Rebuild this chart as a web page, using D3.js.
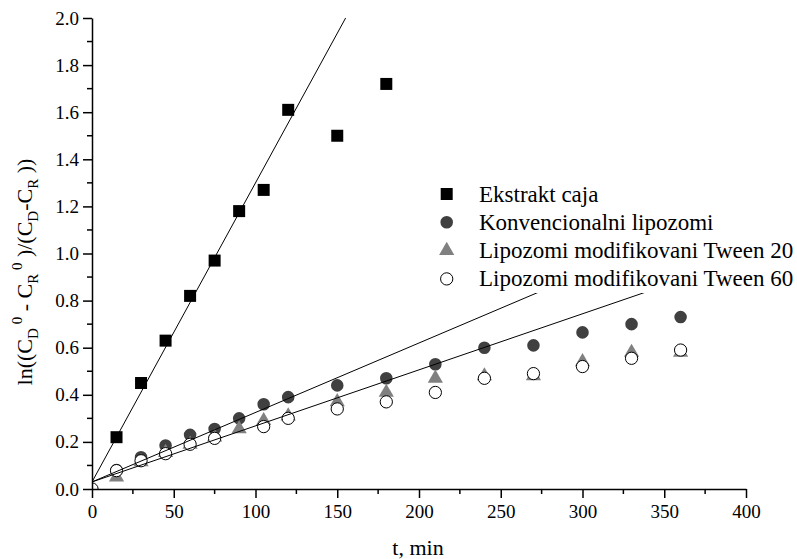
<!DOCTYPE html>
<html>
<head>
<meta charset="utf-8">
<script src="https://cdn.jsdelivr.net/npm/d3@7"></script>
<style>
  body { margin: 0; background: #fff; }
  svg, svg text { font-family: "Liberation Serif", "Times New Roman", serif; }
  svg { display: block; }
</style>
</head>
<body>
<script>
// data
let times = [15, 30, 45, 60, 75, 90, 105, 120, 150, 180, 210, 240, 270, 300, 330, 360];
let ekstrakt = [0.22, 0.45, 0.63, 0.82, 0.97, 1.18, 1.27, 1.61, 1.50, 1.72];
let konvencionalni = [0.08, 0.135, 0.185, 0.23, 0.255, 0.30, 0.36, 0.39, 0.44, 0.47, 0.53, 0.60, 0.61, 0.665, 0.70, 0.73];
let tween20 = [0.05, 0.115, 0.155, 0.19, 0.22, 0.255, 0.29, 0.31, 0.37, 0.41, 0.47, 0.48, 0.48, 0.54, 0.58, 0.58];
let tween60 = [0.078, 0.12, 0.15, 0.19, 0.215, null, 0.265, 0.30, 0.34, 0.37, 0.41, 0.47, 0.49, 0.52, 0.555, 0.59];
let seriesNames = ["Ekstrakt caja", "Konvencionalni lipozomi", "Lipozomi modifikovani Tween 20", "Lipozomi modifikovani Tween 60"];
// linear fits (intercept, slope)
let fitIntercepts = [0.03, 0.03, 0.03];
let fitSlopes = [0.0127, 0.00295, 0.00238];
let xTicks = [0, 50, 100, 150, 200, 250, 300, 350, 400];
let yTicks = [0, 0.2, 0.4, 0.6, 0.8, 1.0, 1.2, 1.4, 1.6, 1.8, 2.0];

let serif = "'Liberation Serif', 'Times New Roman', serif";

let svg = d3.select("body").append("svg")
  .attr("width", 797)
  .attr("height", 559);

let margin = {top: 18, left: 92, right: 51, bottom: 70};
let innerWidth = 797 - margin.left - margin.right;
let innerHeight = 559 - margin.top - margin.bottom;

let x = d3.scaleLinear().domain([0, 400]).range([0, innerWidth]);
let y = d3.scaleLinear().domain([0, 2]).range([innerHeight, 0]);

let g = svg.append("g")
  .attr("transform", `translate(${margin.left},${margin.top})`);

g.append("clipPath").attr("id", "plot")
  .append("rect").attr("width", innerWidth).attr("height", innerHeight);

let plot = g.append("g").attr("clip-path", "url(#plot)");

function pts(vals, withZero) {
  let out = vals.map((v, i) => ({t: times[i], v: v})).filter(d => d.v != null);
  if (withZero) out.unshift({t: 0, v: 0});
  return out;
}

let styles = [
  {type: d3.symbolSquare, size: 144, fill: "#000", stroke: "none"},
  {type: d3.symbolCircle, size: 124, fill: "#404040", stroke: "none"},
  {type: d3.symbolTriangle, size: 100, fill: "#808080", stroke: "none"},
  {type: d3.symbolCircle, size: 118, fill: "#fff", stroke: "#000"}
];
let series = [pts(ekstrakt), pts(konvencionalni), pts(tween20), pts(tween60, true)];

series.forEach((data, i) => {
  let s = styles[i];
  plot.append("g").selectAll("path")
    .data(data)
    .join("path")
    .attr("transform", d => `translate(${x(d.t)},${y(d.v)})`)
    .attr("d", d3.symbol().type(s.type).size(s.size))
    .attr("fill", s.fill)
    .attr("stroke", s.stroke)
    .attr("stroke-width", 1);
});

// fit lines
fitSlopes.forEach((b, i) => {
  let a = fitIntercepts[i];
  let tEnd = Math.min(400, (2 - a) / b);
  plot.append("line")
    .attr("x1", x(0)).attr("y1", y(a))
    .attr("x2", x(tEnd)).attr("y2", y(a + b * tEnd))
    .attr("stroke", "#000")
    .attr("stroke-width", 1);
});

// legend (white box hides the lines behind it)
let legend = svg.append("g");
legend.append("rect")
  .attr("x", 425).attr("y", 178)
  .attr("width", 372).attr("height", 115)
  .attr("fill", "#fff");

seriesNames.forEach((name, i) => {
  let s = styles[i];
  let cy = 194 + i * 28.3;
  legend.append("path")
    .attr("transform", `translate(446.7,${cy})`)
    .attr("d", d3.symbol().type(s.type).size(s.size))
    .attr("fill", s.fill)
    .attr("stroke", s.stroke);
  legend.append("text")
    .attr("x", 479)
    .attr("y", cy + 7.5)
    .style("font-family", serif)
    .style("font-size", "23px")
    .attr("fill", "#000")
    .text(name);
});

// axes
let xAxis = d3.axisBottom(x).tickValues(xTicks).tickSize(9).tickSizeOuter(0).tickPadding(7);
let xG = g.append("g")
  .attr("transform", `translate(0,${innerHeight})`)
  .call(xAxis);
xG.selectAll("text").style("font-size", "19px").style("font-family", serif).attr("fill", "#000");
xG.append("g").selectAll("line")
  .data(d3.range(25, 400, 50))
  .join("line")
  .attr("x1", d => x(d)).attr("x2", d => x(d))
  .attr("y1", 0).attr("y2", 5)
  .attr("stroke", "#000").attr("stroke-width", 1.5);

let yAxis = d3.axisLeft(y).tickValues(yTicks).tickSize(9).tickSizeOuter(0).tickPadding(4)
  .tickFormat(d3.format(".1f"));
let yG = g.append("g").call(yAxis);
yG.selectAll("text").style("font-size", "19px").style("font-family", serif).attr("fill", "#000");
yG.append("g").selectAll("line")
  .data(d3.range(0.1, 2, 0.2))
  .join("line")
  .attr("x1", 0).attr("x2", -5)
  .attr("y1", d => y(d)).attr("y2", d => y(d))
  .attr("stroke", "#000").attr("stroke-width", 1.5);

svg.selectAll(".domain, .tick line").attr("stroke", "#000").attr("stroke-width", 1.5);

// axis titles
svg.append("text")
  .attr("x", 418)
  .attr("y", 555)
  .attr("text-anchor", "middle")
  .style("font-family", serif)
  .style("font-size", "22px")
  .text("t, min");

let yl = svg.append("text")
  .attr("transform", "translate(32,272) rotate(-90)")
  .attr("text-anchor", "middle")
  .style("font-family", serif)
  .style("font-size", "22px");
let parts = [
  ["ln((C", 0], ["D", 1], [" 0", -1], [" - C", 0], ["R", 1], [" 0", -1],
  [" )/(C", 0], ["D", 1], ["-C", 0], ["R", 1], [" ))", 0]
];
let shift = 0;
parts.forEach(p => {
  let target = p[1] === 1 ? 6 : (p[1] === -1 ? -10 : 0);
  yl.append("tspan")
    .attr("dy", target - shift)
    .style("font-size", p[1] === 0 ? "22px" : "15px")
    .text(p[0]);
  shift = target;
});
</script>
</body>
</html>
